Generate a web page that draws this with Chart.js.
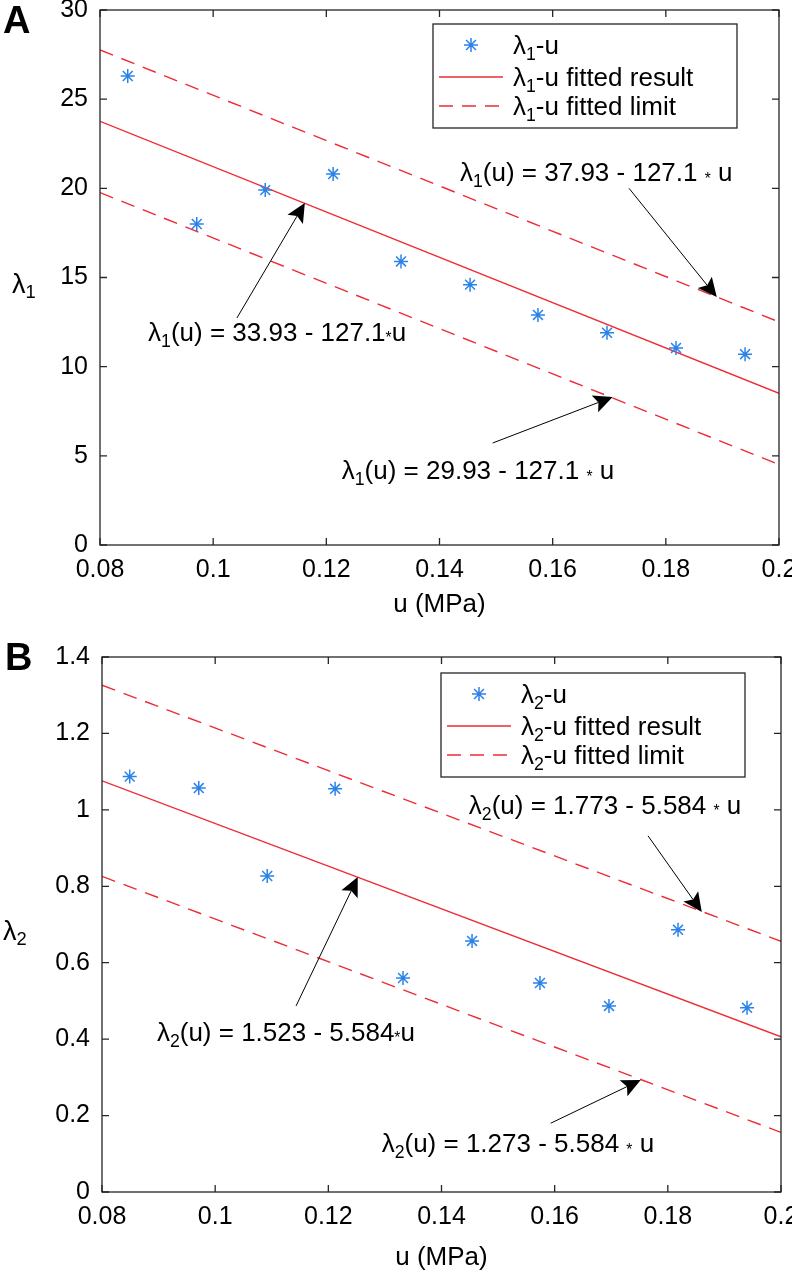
<!DOCTYPE html>
<html>
<head>
<meta charset="utf-8">
<script src="https://cdn.jsdelivr.net/npm/chart.js@4.4.0/dist/chart.umd.min.js"></script>
<style>
  html, body { margin: 0; padding: 0; background: #fff; }
  .panel { position: relative; width: 792px; height: 637px; }
</style>
</head>
<body>
<div class="panel"><canvas id="chartA" width="792" height="637"></canvas></div>
<div class="panel"><canvas id="chartB" width="792" height="637"></canvas></div>
<script>
// measured pressure values (same for both panels)
const uValues = [0.0849, 0.0971, 0.1092, 0.1212, 0.1332, 0.1454, 0.1574, 0.1696, 0.1818, 0.194];
const lambda1 = [26.3, 18.0, 19.9, 20.8, 15.9, 14.6, 12.9, 11.9, 11.05, 10.7];
const lambda2 = [1.087, 1.057, 0.827, 1.055, 0.56, 0.657, 0.547, 0.487, 0.686, 0.482];

// fitted lines, value at the two ends of the u axis
const fitU = [0.08, 0.2];
const fit1 = [23.76, 8.51];
const upper1 = [27.76, 12.51];
const lower1 = [19.76, 4.51];
const fit2 = [1.076, 0.406];
const upper2 = [1.326, 0.656];
const lower2 = [0.826, 0.156];

const xTickLabels = ['0.08', '0.1', '0.12', '0.14', '0.16', '0.18', '0.2'];
const yTickLabelsA = ['0', '5', '10', '15', '20', '25', '30'];
const yTickLabelsB = ['0', '0.2', '0.4', '0.6', '0.8', '1', '1.2', '1.4'];

const legendA = ['λ_1-u', 'λ_1-u fitted result', 'λ_1-u fitted limit'];
const legendB = ['λ_2-u', 'λ_2-u fitted result', 'λ_2-u fitted limit'];

// text labels with arrows; at = text centre, from/to = arrow (data units)
const notesA = [
    { text: 'λ_1(u) = 37.93 - 127.1 * u', at: [0.1677, 20.9], from: [0.1735, 20.0], to: [0.189, 13.9] },
    { text: 'λ_1(u) = 33.93 - 127.1*u', at: [0.1113, 11.95], from: [0.1042, 12.73], to: [0.1162, 19.18] },
    { text: 'λ_1(u) = 29.93 - 127.1 * u', at: [0.1468, 4.2], from: [0.1494, 5.72], to: [0.1706, 8.3] }
];
const notesB = [
    { text: 'λ_2(u) = 1.773 - 5.584 * u', at: [0.1689, 1.013], from: [0.1765, 0.932], to: [0.186, 0.733] },
    { text: 'λ_2(u) = 1.523 - 5.584*u', at: [0.1125, 0.419], from: [0.1143, 0.487], to: [0.1252, 0.824] },
    { text: 'λ_2(u) = 1.273 - 5.584 * u', at: [0.1535, 0.128], from: [0.1593, 0.18], to: [0.1752, 0.293] }
];

const FONT = "'Liberation Sans', Arial, Helvetica, sans-serif";
const BLUE = '#2b83e8';
const RED = '#ee2b35';
const AXIS = '#262626';

function richParts(str) {
    let out = [];
    for (let i = 0; i < str.length; i++) {
        let c = str[i];
        if (c === '_') {
            out.push({ t: str[i + 1], k: 'sub' });
            i++;
        } else if (c === '*') {
            out.push({ t: '*', k: 'star' });
        } else if (out.length && out[out.length - 1].k === 'n') {
            out[out.length - 1].t += c;
        } else {
            out.push({ t: c, k: 'n' });
        }
    }
    return out;
}

// y is the baseline
function drawRich(ctx, str, x, y, size, align) {
    const spec = { n: [1, 0], sub: [0.68, 0.22], star: [0.6, 0.1] };
    let parts = richParts(str);
    let total = 0;
    parts.forEach(p => {
        ctx.font = (size * spec[p.k][0]) + 'px ' + FONT;
        p.w = ctx.measureText(p.t).width;
        total += p.w;
    });
    let cx = align === 'center' ? x - total / 2 : x;
    ctx.textAlign = 'left';
    ctx.textBaseline = 'alphabetic';
    parts.forEach(p => {
        ctx.font = (size * spec[p.k][0]) + 'px ' + FONT;
        ctx.fillText(p.t, cx, y + size * spec[p.k][1]);
        cx += p.w;
    });
}

function drawStar(ctx, x, y, r) {
    ctx.save();
    ctx.strokeStyle = BLUE;
    ctx.lineWidth = 1.5;
    ctx.beginPath();
    for (let k = 0; k < 4; k++) {
        let a = k * Math.PI / 4;
        ctx.moveTo(x - r * Math.cos(a), y - r * Math.sin(a));
        ctx.lineTo(x + r * Math.cos(a), y + r * Math.sin(a));
    }
    ctx.stroke();
    ctx.restore();
}

function drawArrow(ctx, x0, y0, x1, y1) {
    let ang = Math.atan2(y1 - y0, x1 - x0);
    let len = 19, half = 9;
    let bx = x1 - len * Math.cos(ang), by = y1 - len * Math.sin(ang);
    let nx = x1 - len * 0.8 * Math.cos(ang), ny = y1 - len * 0.8 * Math.sin(ang);
    ctx.save();
    ctx.strokeStyle = '#000';
    ctx.fillStyle = '#000';
    ctx.lineWidth = 1;
    ctx.beginPath();
    ctx.moveTo(x0, y0);
    ctx.lineTo(nx, ny);
    ctx.stroke();
    ctx.beginPath();
    ctx.moveTo(x1, y1);
    ctx.lineTo(bx - half * Math.sin(ang), by + half * Math.cos(ang));
    ctx.lineTo(nx, ny);
    ctx.lineTo(bx + half * Math.sin(ang), by - half * Math.cos(ang));
    ctx.closePath();
    ctx.fill();
    ctx.restore();
}

const decorPlugin = {
    id: 'decor',
    afterDraw(chart) {
        const cfg = chart.options.plugins.decor;
        const { ctx, chartArea: a, scales } = chart;
        const xs = scales.x, ys = scales.y;

        // box and inward ticks on all sides
        ctx.save();
        ctx.strokeStyle = AXIS;
        ctx.lineWidth = 1.3;
        ctx.strokeRect(a.left, a.top, a.right - a.left, a.bottom - a.top);
        ctx.beginPath();
        xs.ticks.forEach(t => {
            let px = xs.getPixelForValue(t.value);
            ctx.moveTo(px, a.bottom); ctx.lineTo(px, a.bottom - 7);
            ctx.moveTo(px, a.top); ctx.lineTo(px, a.top + 7);
        });
        ys.ticks.forEach(t => {
            let py = ys.getPixelForValue(t.value);
            ctx.moveTo(a.left, py); ctx.lineTo(a.left + 7, py);
            ctx.moveTo(a.right, py); ctx.lineTo(a.right - 7, py);
        });
        ctx.stroke();
        ctx.restore();

        // annotations
        ctx.save();
        ctx.fillStyle = '#000';
        cfg.notes.forEach(n => {
            drawArrow(ctx,
                xs.getPixelForValue(n.from[0]), ys.getPixelForValue(n.from[1]),
                xs.getPixelForValue(n.to[0]), ys.getPixelForValue(n.to[1]));
            drawRich(ctx, n.text, xs.getPixelForValue(n.at[0]),
                ys.getPixelForValue(n.at[1]) + 9, 26, 'center');
        });
        ctx.restore();

        // legend box
        let lx = a.right - cfg.legendRight - 304, ly = a.top + cfg.legendTop;
        ctx.save();
        ctx.fillStyle = '#fff';
        ctx.fillRect(lx, ly, 304, 104);
        ctx.strokeStyle = AXIS;
        ctx.lineWidth = 1.3;
        ctx.strokeRect(lx, ly, 304, 104);
        let rows = [21, 53, 82];
        drawStar(ctx, lx + 38, ly + rows[0], 7);
        ctx.strokeStyle = RED;
        ctx.lineWidth = 1.4;
        ctx.beginPath();
        ctx.moveTo(lx + 6, ly + rows[1]); ctx.lineTo(lx + 70, ly + rows[1]);
        ctx.stroke();
        ctx.setLineDash([14, 9]);
        ctx.beginPath();
        ctx.moveTo(lx + 6, ly + rows[2]); ctx.lineTo(lx + 70, ly + rows[2]);
        ctx.stroke();
        ctx.setLineDash([]);
        ctx.fillStyle = '#000';
        cfg.legend.forEach((txt, i) => {
            drawRich(ctx, txt, lx + 80, ly + rows[i] + 9, 26, 'left');
        });

        // y title (horizontal) and panel letter
        drawRich(ctx, cfg.yTitle, cfg.yTitleX, (a.top + a.bottom) / 2 + 15, 27, 'left');
        ctx.font = 'bold 38px ' + FONT;
        ctx.textAlign = 'left';
        ctx.textBaseline = 'alphabetic';
        ctx.fillText(cfg.letter, cfg.letterX, 33);
        ctx.restore();
    }
};

function pairs(xv, yv) {
    return xv.map((x, i) => ({ x: x, y: yv[i] }));
}

function makePanel(canvas, p) {
    return new Chart(canvas, {
        type: 'scatter',
        data: {
            datasets: [
                { data: pairs(uValues, p.values), showLine: false, pointStyle: 'star', pointRadius: 7,
                  borderColor: BLUE, backgroundColor: BLUE, borderWidth: 1.5 },
                { data: pairs(fitU, p.fit), showLine: true, pointRadius: 0, borderColor: RED, borderWidth: 1.4 },
                { data: pairs(fitU, p.upper), showLine: true, pointRadius: 0, borderColor: RED, borderWidth: 1.4,
                  borderDash: [14, 9] },
                { data: pairs(fitU, p.lower), showLine: true, pointRadius: 0, borderColor: RED, borderWidth: 1.4,
                  borderDash: [14, 9] }
            ]
        },
        options: {
            responsive: false,
            animation: false,
            layout: { padding: { left: 0, top: p.top, right: 792 - p.right, bottom: 0 } },
            plugins: {
                legend: { display: false },
                tooltip: { enabled: false },
                decor: { notes: p.notes, legend: p.legend, yTitle: p.yTitle, yTitleX: p.yTitleX,
                         letter: p.letter, letterX: p.letterX, legendRight: p.legendRight, legendTop: p.legendTop }
            },
            scales: {
                x: {
                    type: 'linear', min: 0.08, max: 0.2,
                    afterBuildTicks: s => { s.ticks = xTickLabels.map(v => ({ value: Number(v) })); },
                    ticks: { callback: (v, i) => xTickLabels[i], font: { size: 25, family: FONT }, color: '#000',
                             padding: p.xLabelPad, maxRotation: 0, autoSkip: false },
                    grid: { display: false, drawTicks: false },
                    border: { display: false },
                    title: { display: true, text: 'u (MPa)', color: '#000', font: { size: 26, family: FONT },
                             padding: { top: 0, bottom: p.titlePad } },
                    afterFit: s => { s.height = 637 - p.bottom; s.paddingLeft = 0; s.paddingRight = 0; }
                },
                y: {
                    type: 'linear', min: 0, max: Number(p.yTicks[p.yTicks.length - 1]),
                    afterBuildTicks: s => { s.ticks = p.yTicks.map(v => ({ value: Number(v) })); },
                    ticks: { callback: (v, i) => p.yTicks[i], font: { size: 25, family: FONT, lineHeight: 0.8 },
                             color: '#000', padding: 12 },
                    grid: { display: false, drawTicks: false },
                    border: { display: false },
                    afterFit: s => { s.width = p.left; s.paddingTop = 0; s.paddingBottom = 0; }
                }
            }
        },
        plugins: [decorPlugin]
    });
}

makePanel(document.getElementById('chartA'), {
    values: lambda1, fit: fit1, upper: upper1, lower: lower1, yTicks: yTickLabelsA,
    notes: notesA, legend: legendA, yTitle: 'λ_1', yTitleX: 12, letter: 'A', letterX: 3,
    left: 100, top: 10, right: 779, bottom: 545, xLabelPad: 10, titlePad: 17,
    legendRight: 42, legendTop: 14
});

makePanel(document.getElementById('chartB'), {
    values: lambda2, fit: fit2, upper: upper2, lower: lower2, yTicks: yTickLabelsB,
    notes: notesB, legend: legendB, yTitle: 'λ_2', yTitleX: 3, letter: 'B', letterX: 5,
    left: 102, top: 20, right: 781, bottom: 555, xLabelPad: 10, titlePad: 1,
    legendRight: 36, legendTop: 16
});
</script>
</body>
</html>
